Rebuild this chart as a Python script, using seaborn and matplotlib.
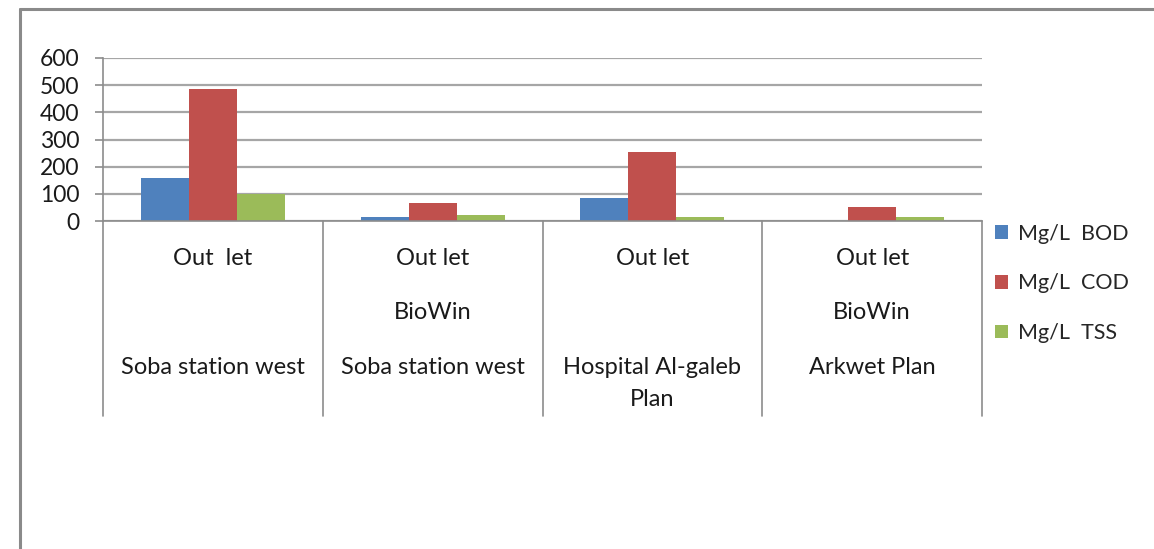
import numpy as np
import pandas as pd
import matplotlib
matplotlib.use("Agg")
import matplotlib.pyplot as plt
import seaborn as sns
from matplotlib.lines import Line2D
from matplotlib.transforms import blended_transform_factory

# --- data ---
sites = ["Site 1", "Site 2", "Site 3", "Site 4"]
row_outlet = ["Out  let", "Out let", "Out let", "Out let"]
row_model = ["", "BioWin", "", "BioWin"]
row_station = ["Soba station west", "Soba station west", "Hospital Al-galeb\nPlan", "Arkwet Plan"]

series = ["Mg/L  BOD", "Mg/L  COD", "Mg/L  TSS"]
bod = [160, 16, 86, 0]
cod = [485, 65, 253, 52]
tss = [100, 22, 16, 16]
colors = ["#4F81BD", "#C0504D", "#9BBB59"]
y_ticks = [0, 100, 200, 300, 400, 500, 600]

df = pd.DataFrame({
    "site": sites * 3,
    "series": np.repeat(series, len(sites)),
    "value": bod + cod + tss,
})

sns.set_theme(style="white")
plt.rcParams["font.family"] = ["Lato", "DejaVu Sans"]
grey = "#8c8c8c"
txt = "#1a1a1a"

fig = plt.figure(figsize=(11.54, 5.49), dpi=100)
ax = fig.add_axes([103 / 1154, 1 - 221 / 549, (982 - 103) / 1154, (221 - 58) / 549])

sns.barplot(data=df, x="site", y="value", hue="series", palette=colors,
            width=0.655, saturation=1, ax=ax, edgecolor="none", legend=True)

ax.set_ylim(0, 600)
ax.set_xlim(-0.5, len(sites) - 0.5)
ax.set_yticks(y_ticks)
ax.set_yticklabels([str(v) for v in y_ticks], fontsize=16.5, color=txt)
ax.tick_params(axis="y", direction="out", length=6, width=1.2, color=grey, pad=11, left=True)
ax.set_xticks([])
ax.set_xlabel("")
ax.set_ylabel("")
ax.yaxis.grid(True, color="#a6a6a6", linewidth=1.6)
ax.set_axisbelow(True)
for side in ["top", "right"]:
    ax.spines[side].set_visible(False)
ax.spines["left"].set_color(grey)
ax.spines["bottom"].set_color(grey)
ax.spines["left"].set_linewidth(1.2)
ax.spines["bottom"].set_linewidth(1.2)

# category separators and multi-level labels below the axis
tr = blended_transform_factory(ax.transData, ax.transAxes)
h_px = 221 - 58
for b in np.arange(-0.5, len(sites), 1.0):
    ax.plot([b, b], [0, -(416 - 221) / h_px], transform=tr, color=grey,
            linewidth=1.2, clip_on=False)

cat_font = dict(fontsize=17, color=txt)
for i in range(len(sites)):
    ax.text(i, -(258 - 221) / h_px, row_outlet[i], transform=tr, ha="center", va="center", **cat_font)
    ax.text(i, -(312 - 221) / h_px, row_model[i], transform=tr, ha="center", va="center", **cat_font)
    ax.text(i, -(357 - 221) / h_px, row_station[i], transform=tr, ha="center", va="top",
            linespacing=1.62, **cat_font)

# legend on the right
handles, labels = ax.get_legend_handles_labels()
ax.legend_.remove()
fig.legend(handles, labels, loc="upper left", bbox_to_anchor=(986 / 1154, 1 - 215 / 549),
           frameon=False, fontsize=15.5, handlelength=0.6, handleheight=0.6,
           handletextpad=0.5, labelspacing=1.38, borderaxespad=0)

# outer chart frame (top and left edges only are visible)
fig.add_artist(Line2D([20 / 1154, 1], [1 - 9 / 549, 1 - 9 / 549], color="#8a8a8a", linewidth=2.2))
fig.add_artist(Line2D([20 / 1154, 20 / 1154], [0, 1 - 9 / 549], color="#8a8a8a", linewidth=2.2))

fig.savefig("out.png", dpi=100)
